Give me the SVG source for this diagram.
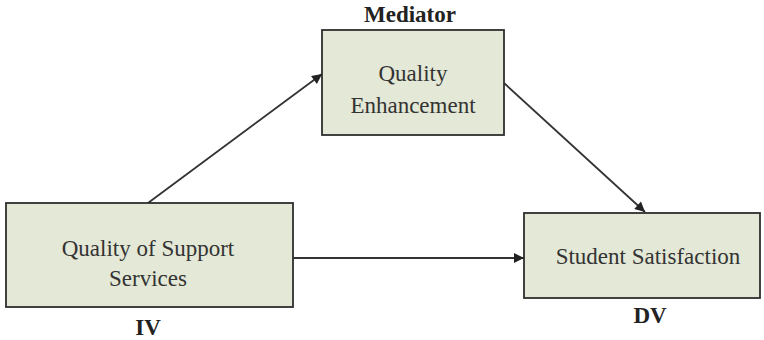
<svg xmlns="http://www.w3.org/2000/svg" width="764" height="340" viewBox="0 0 764 340">
<style>
.box{fill:#e4e8d6;stroke:#2e2e2e;stroke-width:1.8}
.t{font-family:"Liberation Serif","DejaVu Serif",serif;font-size:23px;fill:#333;text-anchor:middle}
.lbl{font-family:"Liberation Serif","DejaVu Serif",serif;font-size:23px;font-weight:bold;fill:#222;text-anchor:middle}
.c{stroke:#333;stroke-width:1.8;fill:none;marker-end:url(#ah)}
</style>
<defs>
<marker id="ah" viewBox="0 0 10 10" refX="10" refY="5" markerWidth="11" markerHeight="10" orient="auto" markerUnits="userSpaceOnUse">
<path d="M0,0 L10,5 L0,10 z" fill="#222"/>
</marker>
</defs>
<rect width="764" height="340" fill="#fff"/>
<g id="connectors">
<line class="c" x1="148" y1="203" x2="322" y2="74"/>
<line class="c" x1="504" y1="83" x2="645" y2="212"/>
<line class="c" x1="293" y1="258" x2="524" y2="258"/>
</g>
<g id="mediator">
<text class="lbl" x="410" y="22">Mediator</text>
<rect class="box" x="322" y="30" width="182" height="105"/>
<text class="t" x="413" y="81">Quality</text>
<text class="t" x="413" y="113">Enhancement</text>
</g>
<g id="iv">
<rect class="box" x="6" y="203" width="287" height="104"/>
<text class="t" x="148" y="256">Quality of Support</text>
<text class="t" x="148" y="286">Services</text>
<text class="lbl" x="148" y="335">IV</text>
</g>
<g id="dv">
<rect class="box" x="524" y="213" width="236" height="85"/>
<text class="t" x="648" y="264">Student Satisfaction</text>
<text class="lbl" x="650" y="323">DV</text>
</g>
</svg>
